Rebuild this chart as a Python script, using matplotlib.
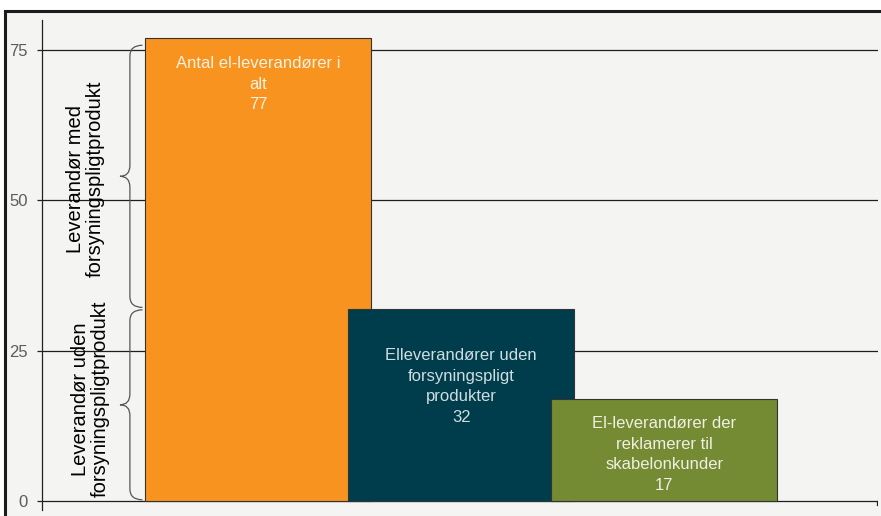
import matplotlib
matplotlib.use("Agg")
import matplotlib.pyplot as plt
from matplotlib.patches import Rectangle, PathPatch
from matplotlib.path import Path
from matplotlib.lines import Line2D

plt.rcParams['font.family'] = ['Liberation Sans', 'DejaVu Sans']

# Data
categories = ["Antal el-leverandører i\nalt",
              "Elleverandører uden\nforsyningspligt\nprodukter",
              "El-leverandører der\nreklamerer til\nskabelonkunder"]
values = [77, 32, 17]
yticks = [0, 25, 50, 75]
brace_labels = ["Leverandør med\nforsyningspligtprodukt",
                "Leverandør uden\nforsyningspligtprodukt"]

# Styling
bar_colors = ['#F7931E', '#003D4C', '#748A33']
text_colors = ['#fdf1e0', '#cfdde0', '#eef0e2']
label_offsets_pt = [13, 28.5, 12.5]
bg = '#f4f5f2'
W, H = 881, 516

fig = plt.figure(figsize=(W / 100, H / 100), dpi=100)
fig.patch.set_facecolor('white')

# Panel background with a dark frame on the top and left edges
x0, y0 = 4.5 / W, (H - 10.5) / H
fig.add_artist(Rectangle((x0, 0), 1 - x0, y0, transform=fig.transFigure,
                         facecolor=bg, edgecolor='none', zorder=-2))
fig.add_artist(Line2D([x0, x0, 1], [0, y0, y0], transform=fig.transFigure,
                      color='#1c1c1c', linewidth=2.2, zorder=-1,
                      solid_joinstyle='miter'))

ax = fig.add_axes([42 / W, 6 / H, 836 / W, 490 / H])
ax.patch.set_alpha(0)
ax.set_ylim(-1.5, 80)
ax.set_xlim(-1.065, 3.053)

for s in ['top', 'right', 'bottom']:
    ax.spines[s].set_visible(False)
ax.spines['left'].set_color('#222222')
ax.spines['left'].set_linewidth(0.9)

ax.set_yticks(yticks)
ax.set_yticklabels([str(t) for t in yticks], color='#5c5c5c', fontsize=12)
ax.tick_params(axis='y', length=3.5, width=0.9, color='#222222', pad=7)
ax.set_xticks([])

# Horizontal gridlines and the category axis line
for t in yticks:
    ax.axhline(t, color='#1e1e1e', linewidth=0.9, zorder=1)
ax.plot([3.05, 3.05], [0, -0.7], color='#1e1e1e', linewidth=0.9, zorder=1)

# Overlapping bars, each drawn over the previous one
xs = list(range(len(values)))
for i, (x, v) in enumerate(zip(xs, values)):
    ax.bar(x, v, width=1.113, color=bar_colors[i], edgecolor='#333333',
           linewidth=0.8, zorder=2 + i)
    ax.annotate(f"{categories[i]}\n{v}", xy=(x, v),
                xytext=(0, -label_offsets_pt[i]), textcoords='offset points',
                ha='center', va='top', multialignment='center',
                fontsize=12, color=text_colors[i], linespacing=1.46,
                zorder=10)


def curly_brace(ax, y0, y1, x_tip, x_spine, x_end, r):
    ym = (y0 + y1) / 2
    verts = [(x_end, y1), (x_spine, y1), (x_spine, y1 - r),
             (x_spine, ym + r),
             (x_spine, ym), (x_tip, ym),
             (x_spine, ym), (x_spine, ym - r),
             (x_spine, y0 + r),
             (x_spine, y0), (x_end, y0)]
    codes = [Path.MOVETO, Path.CURVE3, Path.CURVE3,
             Path.LINETO,
             Path.CURVE3, Path.CURVE3,
             Path.CURVE3, Path.CURVE3,
             Path.LINETO,
             Path.CURVE3, Path.CURVE3]
    patch = PathPatch(Path(verts, codes), facecolor='none',
                      edgecolor='#555555', linewidth=0.9, zorder=5,
                      clip_on=False)
    ax.add_patch(patch)


# Braces splitting the total into suppliers with / without the product
split = values[1]
total = values[0]
curly_brace(ax, split + 0.2, total - 1.2, -0.681, -0.632, -0.57, 1.8)
curly_brace(ax, 0.2, split - 0.2, -0.681, -0.632, -0.57, 1.8)

ax.text(-0.853, 53.6, brace_labels[0], rotation=90,
        ha='center', va='center', multialignment='center', fontsize=14.5,
        linespacing=1.05, color='black', zorder=6)
ax.text(-0.829, 17.0, brace_labels[1], rotation=90,
        ha='center', va='center', multialignment='center', fontsize=14.5,
        linespacing=1.05, color='black', zorder=6)

fig.savefig('out.png', dpi=100, facecolor=fig.get_facecolor())
